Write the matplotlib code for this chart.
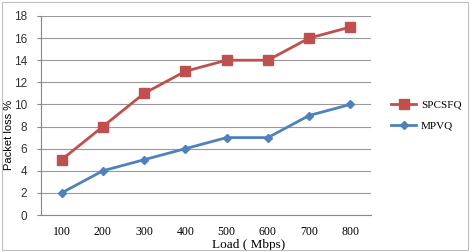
import matplotlib
matplotlib.use("Agg")
import matplotlib.pyplot as plt
from matplotlib.patches import Rectangle
from matplotlib.transforms import ScaledTranslation

loads = ["100", "200", "300", "400", "500", "600", "700", "800"]
spcsfq = [5, 8, 11, 13, 14, 14, 16, 17]
mpvq = [2, 4, 5, 6, 7, 7, 9, 10]
yticks = [0, 2, 4, 6, 8, 10, 12, 14, 16, 18]

fig = plt.figure(figsize=(4.72, 2.52), dpi=100)
fig.patches.append(Rectangle((0.004, 0.006), 0.988, 0.988, transform=fig.transFigure,
                             fill=False, edgecolor="#BFBFBF", lw=0.8))
ax = fig.add_axes([41/472, 1-215/252, 330/472, (215-16)/252])
x = list(range(len(loads)))
ax.plot(x, spcsfq, color="#C0504D", marker="s", ms=6.5, lw=2, label="SPCSFQ")
ax.plot(x, mpvq, color="#4F81BD", marker="D", ms=4.5, lw=2, label="MPVQ")
ax.set_xlim(-0.5, len(loads)-0.5)
ax.set_ylim(0, 18)
ax.set_yticks(yticks)
ax.set_yticklabels([str(v) for v in yticks], fontsize=8.5, color="#333333", family="Liberation Sans")
ax.set_xticks(x)
ax.set_xticklabels(loads, fontsize=8.5, family="Liberation Serif")
off = ScaledTranslation(6/100, 0, fig.dpi_scale_trans)
for lab in ax.get_xticklabels():
    lab.set_transform(lab.get_transform() + off)
ax.tick_params(axis="x", length=0, pad=8)
ax.tick_params(axis="y", length=3, color="#888888", pad=7)
ax.grid(axis="y", color="#999999", lw=0.8)
ax.set_axisbelow(True)
for s in ["top", "right"]:
    ax.spines[s].set_visible(False)
for s in ["left", "bottom"]:
    ax.spines[s].set_color("#888888")
    ax.spines[s].set_linewidth(0.8)
ax.set_ylabel("Packet loss %", fontsize=8, family="Liberation Sans")
ax.yaxis.set_label_coords(-0.082, 0.40)
ax.set_xlabel("Load ( Mbps)", fontsize=9.5, family="Liberation Serif")
ax.xaxis.set_label_coords(0.63, -0.12)
ax.legend(loc="center left", bbox_to_anchor=(1.03, 0.5), frameon=False,
          prop={"family": "Liberation Serif", "size": 8}, handlelength=2.3,
          labelspacing=1.0, handletextpad=0.4)
fig.savefig("out.png", dpi=100)
